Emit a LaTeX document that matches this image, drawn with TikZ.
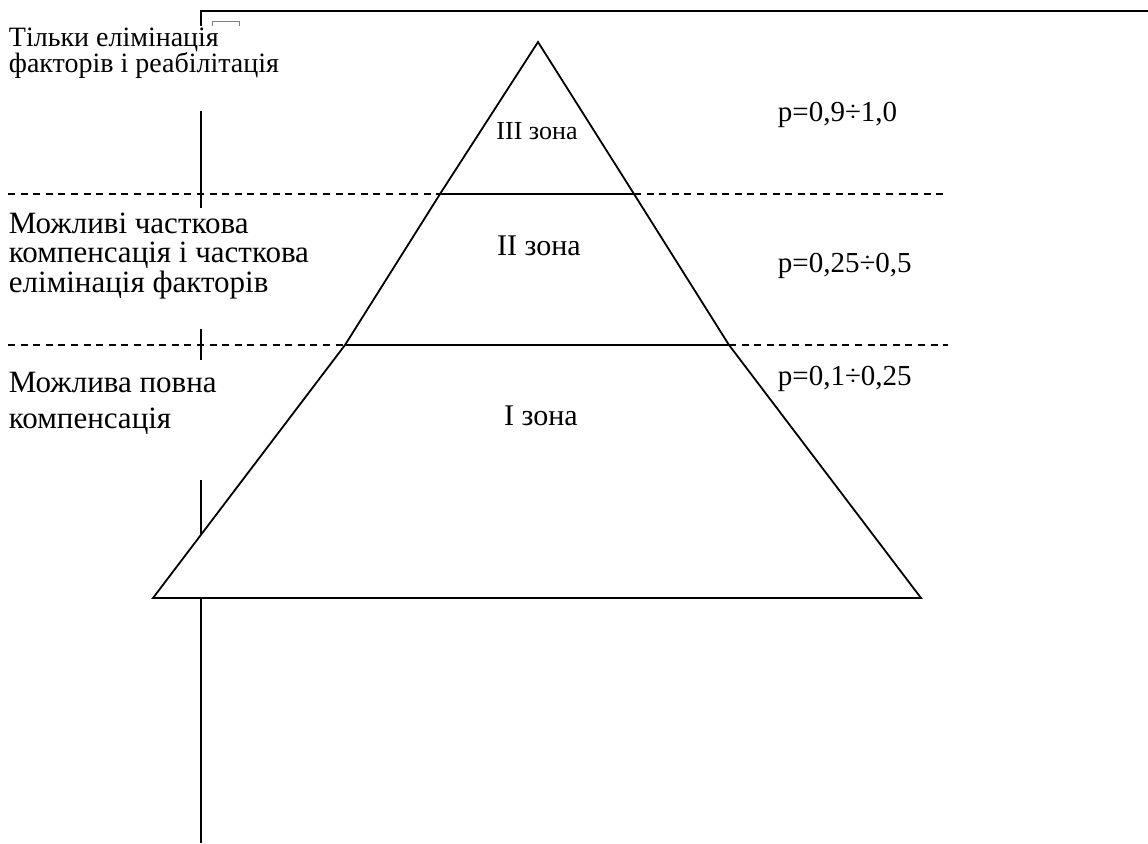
\documentclass[tikz,border=0pt]{standalone}
\usepackage{fontspec}
\setmainfont{Liberation Serif}
\usepackage{tikz}
\usetikzlibrary{positioning}
\tikzstyle{sidetext} = [anchor=base west, align=left, inner sep=0pt]
\tikzstyle{zonelabel} = [anchor=base, inner sep=0pt]
\tikzstyle{plabel} = [anchor=base west, inner sep=0pt, font=\fontsize{29}{29}\selectfont]
\tikzstyle{zoneline} = [dash pattern=on 7pt off 5.6pt, line width=1.4pt]

\begin{document}
\begin{tikzpicture}[x=1pt, y=-1pt, line width=1.8pt]
      \useasboundingbox (0,0) rectangle (1148,843);
      % frame of the page
      \draw (201,26) -- (201,11) -- (1148,11);
      \draw[gray, line width=1pt] (212,26) -- (212,22) -- (239,22) -- (239,26);
      \foreach \a/\b in {111/208, 329/360, 480/535, 598/843}
        \draw (201,\a) -- (201,\b);
      % pyramid corners
      \coordinate (apex) at (538,42);
      \coordinate (topl) at (440,194);
      \coordinate (topr) at (634,194);
      \coordinate (midl) at (345,345);
      \coordinate (midr) at (729,345);
      \coordinate (botl) at (153,598);
      \coordinate (botr) at (921,598);
      \draw (botl) -- (midl) -- (topl) -- (apex) -- (topr) -- (midr) -- (botr) -- cycle;
      \draw (topl) -- (topr);
      \draw (midl) -- (midr);
      % zone borders
      \coordinate (d1a) at (8,194);
      \coordinate (d1b) at (948,194);
      \coordinate (d2a) at (8,345);
      \coordinate (d2b) at (948,345);
      \draw[zoneline] (d1a) -- (topl);
      \draw[zoneline] (topr) -- (d1b);
      \draw[zoneline] (d2a) -- (midl);
      \draw[zoneline] (midr) -- (d2b);
      % zones
      \node[zonelabel, font=\fontsize{26}{26}\selectfont] (z3) at (537,139) {III зона};
      \node[zonelabel, font=\fontsize{30}{30}\selectfont] (z2) at (539,255) {II зона};
      \node[zonelabel, font=\fontsize{30}{30}\selectfont] (z1) at (541,425) {I зона};
      % probabilities
      \node[plabel] (p3) at (777,121) {p=0,9÷1,0};
      \node[plabel] (p2) at (777,272) {p=0,25÷0,5};
      \node[plabel] (p1) at (777,385) {p=0,1÷0,25};
      % descriptions
      \node[sidetext, font=\fontsize{28}{25}\selectfont] (t3) at (8,73) {Тільки елімінація\\факторів і реабілітація};
      \node[sidetext, font=\fontsize{31}{29.5}\selectfont] (t2) at (8,292) {Можливі часткова\\компенсація і часткова\\елімінація факторів};
      \node[sidetext, font=\fontsize{31}{36}\selectfont] (t1) at (8,428) {Можлива повна\\компенсація};
    \end{tikzpicture}
\end{document}
